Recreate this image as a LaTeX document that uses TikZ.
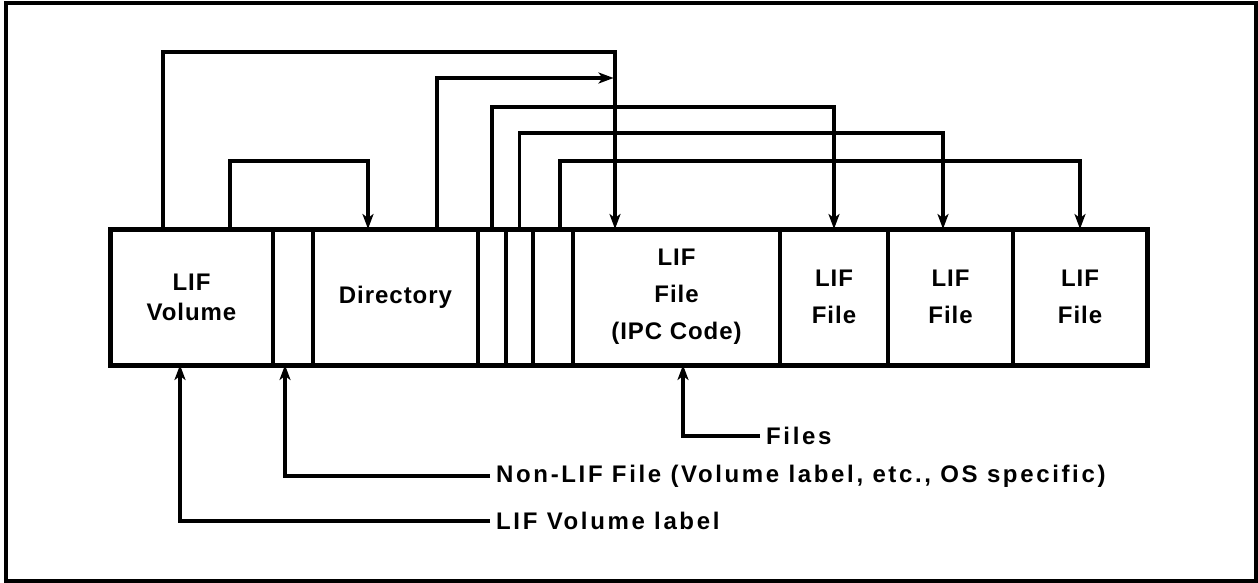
\documentclass[tikz,border=0pt]{standalone}
\usepackage{fontspec}
\newfontfamily\plotfont[LetterSpace=4]{Liberation Sans Bold}
\newfontfamily\labelfont[LetterSpace=11]{Liberation Sans Bold}
\usetikzlibrary{arrows.meta,positioning}

\begin{document}
\begin{tikzpicture}[x=1pt,y=-1pt,
  cell/.style={draw,line width=3.5pt,minimum height=136pt,inner sep=0pt,outer sep=0pt,
    align=center,font=\plotfont\fontsize{24}{37}\selectfont},
  link/.style={line width=3.5pt,-{Stealth[length=15pt,width=11pt,inset=4pt]}},
  lbl/.style={anchor=west,inner sep=6pt,font=\labelfont\fontsize{24}{28}\selectfont}]
\useasboundingbox (0,0) rectangle (1258,583);
\draw[line width=3.5pt] (6,3) rectangle (1256,581);
% the volume, cell by cell
\node[cell,minimum width=163pt,font=\plotfont\fontsize{24}{30}\selectfont] (vol) at (191.5,297) {LIF\\Volume};
\node[cell,minimum width=40pt] (nonlif) at (293,297) {};
\node[cell,minimum width=165pt] (dir) at (395.5,297) {Directory};
\node[cell,minimum width=28pt] (s1) at (492,297) {};
\node[cell,minimum width=27pt] (s2) at (519.5,297) {};
\node[cell,minimum width=40pt] (s3) at (553,297) {};
\node[cell,minimum width=207pt] (ipc) at (676.5,297) {LIF\\File\\(IPC Code)};
\node[cell,minimum width=108pt] (f1) at (834,297) {LIF\\File};
\node[cell,minimum width=125pt] (f2) at (950.5,297) {LIF\\File};
\node[cell,minimum width=134pt] (f3) at (1080,297) {LIF\\File};
\draw[line width=5pt] (vol.north west) rectangle (f3.south east);
% pointers above the volume
\coordinate (join) at (613.5,78);
\draw[link] ([xshift=-28.5pt]vol.north) -- ++(0,-177) -| ([xshift=-61.5pt]ipc.north);
\draw[link] ([xshift=38.5pt]vol.north) -- ++(0,-68) -| ([xshift=-27.5pt]dir.north);
\draw[link] ([xshift=41.5pt]dir.north) |- (join);
\draw[link] (s1.north) -- ++(0,-122) -| (f1.north);
\draw[link] (s2.north) -- ++(0,-96) -| ([xshift=-7.5pt]f2.north);
\draw[link] ([xshift=7pt]s3.north) -- ++(0,-68) -| (f3.north);
% labels below
\node[lbl] (files) at (760,436) {Files};
\draw[link] (files.west) -| ([xshift=6.5pt]ipc.south);
\node[lbl] (nonlbl) at (490,476) {Non-LIF File (Volume label, etc., OS specific)};
\draw[link] (nonlbl.west) -| ([xshift=-8pt]nonlif.south);
\node[lbl] (vollbl) at (490,521) {LIF Volume label};
\draw[link] (vollbl.west) -| ([xshift=-11.5pt]vol.south);
\end{tikzpicture}
\end{document}
